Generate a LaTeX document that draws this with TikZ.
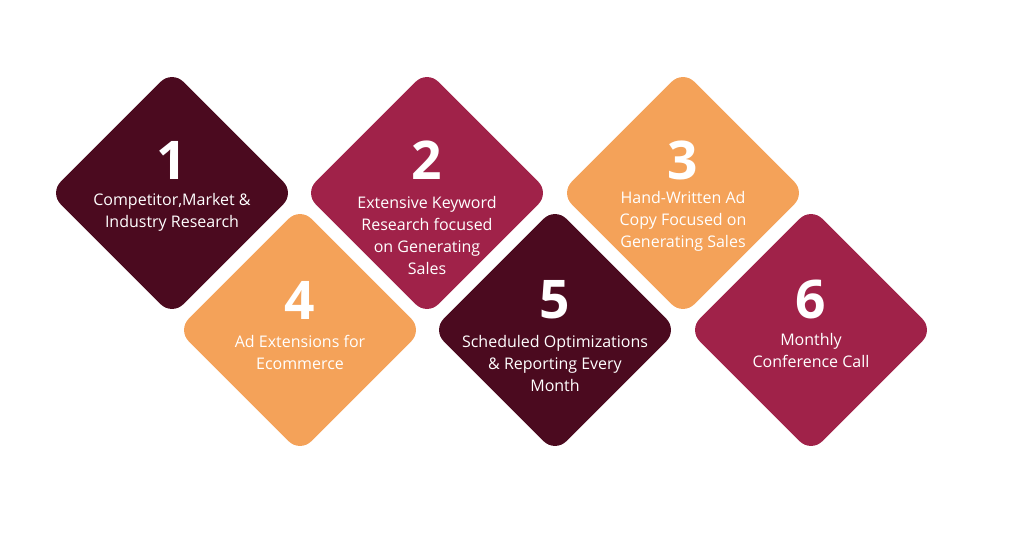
\documentclass[tikz,border=0pt]{standalone}
\usepackage{fontspec}
\setmainfont{Open Sans}
\definecolor{wine}{HTML}{4B0A1F}
\definecolor{berry}{HTML}{A02249}
\definecolor{apricot}{HTML}{F4A259}
\tikzset{
  tile/.style   = {rectangle, rotate=45, minimum size=130pt, rounded corners=12pt, inner sep=0pt},
  num/.style    = {text=white, font=\fontsize{40}{40}\selectfont\bfseries},
  label/.style  = {text=white, align=center, anchor=north, font=\fontsize{12}{16.5}\selectfont}
}
\begin{document}
\begin{tikzpicture}[x=0.75pt, y=-0.75pt]
\useasboundingbox (0,0) rectangle (1024,545);

% Top row
\node [tile, fill=wine]    (t1) at (172,193) {};
\node [tile, fill=berry]   (t2) at (427,193) {};
\node [tile, fill=apricot] (t3) at (683,193) {};

% Bottom row
\node [tile, fill=apricot] (t4) at (300,330) {};
\node [tile, fill=wine]    (t5) at (555,330) {};
\node [tile, fill=berry]   (t6) at (811,330) {};

% Numbers
\node [num] (n1) at (172,160) {1};
\node [num] (n2) at (427,160) {2};
\node [num] (n3) at (683,160) {3};
\node [num] (n4) at (300,300) {4};
\node [num] (n5) at (555,300) {5};
\node [num] (n6) at (811,300) {6};

% Texts
\node [label] (l1) at (172,189) {Competitor,Market \&\\Industry Research};
\node [label] (l2) at (427,192) {Extensive Keyword\\Research focused\\on Generating\\Sales};
\node [label] (l3) at (683,187) {Hand-Written Ad\\Copy Focused on\\Generating Sales};
\node [label] (l4) at (300,331) {Ad Extensions for\\Ecommerce};
\node [label] (l5) at (555,331) {Scheduled Optimizations\\\& Reporting Every\\Month};
\node [label] (l6) at (811,329) {Monthly\\Conference Call};

\end{tikzpicture}
\end{document}
